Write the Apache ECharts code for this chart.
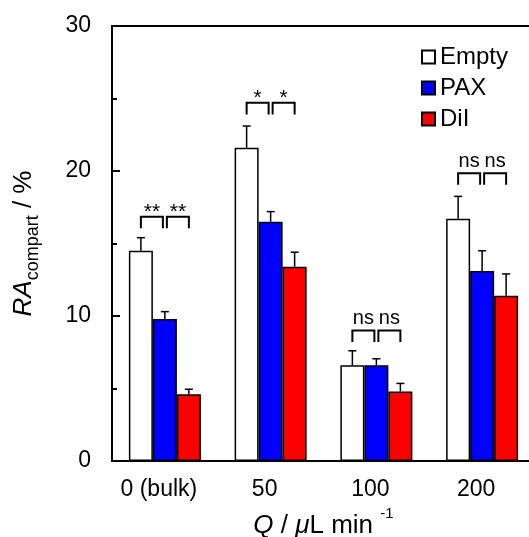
<!DOCTYPE html>
<html>
<head>
<meta charset="utf-8">
<script src="https://cdn.jsdelivr.net/npm/echarts@6/dist/echarts.min.js"></script>
<style>
  html, body { margin: 0; padding: 0; background: #fff; }
  #chart { width: 529px; height: 537px; }
</style>
</head>
<body>
<div id="chart"></div>
<script>
// flow rates (x categories)
var categories = ['0 (bulk)', '50', '100', '200'];
// RA_compart values (%) and upper error bars
var emptyVals = [14.5, 21.6, 6.6, 16.7];
var emptyErr = [0.9, 1.5, 1.0, 1.55];
var paxVals = [9.8, 16.5, 6.6, 13.1];
var paxErr = [0.5, 0.7, 0.45, 1.4];
var dilVals = [4.6, 13.4, 4.8, 11.4];
var dilErr = [0.35, 1.0, 0.55, 1.5];
// significance brackets
var sigLabels = ['**', '*', 'ns', 'ns'];
var bracketTop = [16.85, 24.7, 9.0, 19.85];
var yTicks = [0, 10, 20, 30];

var FONT = 'Liberation Sans, Arial, sans-serif';
var BAR_W = 24;

var chart = echarts.init(document.getElementById('chart'));

// error bar (upper only) drawn next to bar at offset
function errorSeries(vals, errs, offset) {
  return {
    type: 'custom',
    silent: true,
    z: 3,
    data: vals.map(function (v, i) { return [i, v, v + errs[i]]; }),
    renderItem: function (params, api) {
      var base = api.coord([api.value(0), api.value(1)]);
      var top = api.coord([api.value(0), api.value(2)]);
      var x = base[0] + offset;
      var st = { stroke: '#000', lineWidth: 1.5 };
      return {
        type: 'group',
        children: [
          { type: 'line', shape: { x1: x, y1: base[1], x2: x, y2: top[1] }, style: st },
          { type: 'line', shape: { x1: x - 4, y1: top[1], x2: x + 4, y2: top[1] }, style: st }
        ]
      };
    }
  };
}

function barSeries(name, vals, color) {
  return {
    name: name,
    type: 'bar',
    data: vals,
    barWidth: BAR_W,
    barGap: '0%',
    itemStyle: { color: color, borderColor: '#000', borderWidth: 1.5 }
  };
}

var bracketSeries = {
  type: 'custom',
  silent: true,
  z: 4,
  data: categories.map(function (c, i) { return [i, bracketTop[i], bracketTop[i] - 0.8]; }),
  renderItem: function (params, api) {
    var i = api.value(0);
    var t = api.coord([i, api.value(1)]);
    var b = api.coord([i, api.value(2)]);
    var cx = t[0], yt = t[1], yb = b[1];
    var st = { stroke: '#000', lineWidth: 2, fill: null };
    var lab = sigLabels[i];
    var isStar = lab.indexOf('*') >= 0;
    var ty = isStar ? yt + 6 : yt - 2;
    var txt = function (x) {
      return {
        type: 'text',
        style: {
          x: x, y: ty, text: lab, fill: '#000',
          font: (isStar ? 21 : 20) + 'px ' + FONT,
          align: 'center', verticalAlign: 'bottom'
        }
      };
    };
    return {
      type: 'group',
      children: [
        { type: 'polyline', shape: { points: [[cx - 24, yb], [cx - 24, yt], [cx - 2, yt], [cx - 2, yb]] }, style: st },
        { type: 'polyline', shape: { points: [[cx + 2, yb], [cx + 2, yt], [cx + 24, yt], [cx + 24, yb]] }, style: st },
        txt(cx - 13),
        txt(cx + 13)
      ]
    };
  }
};

var option = {
  animation: false,
  backgroundColor: '#fff',
  textStyle: { fontFamily: FONT },
  grid: {
    left: 112, right: -6, top: 26, bottom: 76,
    outerBoundsMode: 'none',
    show: true, borderColor: '#000', borderWidth: 2
  },
  legend: {
    orient: 'vertical',
    left: 416,
    top: 40,
    itemWidth: 13,
    itemHeight: 13,
    itemGap: 7,
    icon: 'rect',
    textStyle: { fontSize: 24, color: '#000', fontFamily: FONT },
    data: ['Empty', 'PAX', 'DiI']
  },
  xAxis: {
    type: 'category',
    data: categories,
    axisLine: { lineStyle: { color: '#000', width: 2 } },
    axisTick: { show: false },
    axisLabel: { fontSize: 23, color: '#000', margin: 17, padding: [0, 12, 0, 0], fontFamily: FONT },
    name: '{i|Q}{n| / }{i|\u03bc}{n|L min }{s|-1}',
    nameLocation: 'middle',
    nameGap: 44,
    nameTextStyle: {
      rich: {
        i: { fontSize: 26, fontStyle: 'italic', lineHeight: 40, color: '#000', fontFamily: FONT },
        n: { fontSize: 26, lineHeight: 40, color: '#000', fontFamily: FONT },
        s: { fontSize: 15, lineHeight: 12, verticalAlign: 'top', color: '#000', fontFamily: FONT }
      }
    }
  },
  yAxis: {
    type: 'value',
    min: yTicks[0],
    max: yTicks[yTicks.length - 1],
    interval: yTicks[1] - yTicks[0],
    axisLine: { show: true, lineStyle: { color: '#000', width: 2 } },
    axisTick: { show: true, inside: true, length: 8, lineStyle: { color: '#000', width: 2 } },
    minorTick: { show: true, splitNumber: 2, length: 5, lineStyle: { color: '#000', width: 2 } },
    splitLine: { show: false },
    axisLabel: { fontSize: 23, color: '#000', margin: 21, fontFamily: FONT },
    name: '{i|RA}{s|compart}{n| / %}',
    nameLocation: 'middle',
    nameRotate: 90,
    nameGap: 70,
    nameTextStyle: {
      rich: {
        i: { fontSize: 26, fontStyle: 'italic', lineHeight: 36, color: '#000', fontFamily: FONT },
        s: { fontSize: 18, lineHeight: 14, verticalAlign: 'bottom', color: '#000', fontFamily: FONT },
        n: { fontSize: 26, lineHeight: 36, color: '#000', fontFamily: FONT }
      }
    }
  },
  series: [
    barSeries('Empty', emptyVals, '#ffffff'),
    barSeries('PAX', paxVals, '#0000ff'),
    barSeries('DiI', dilVals, '#ff0000'),
    errorSeries(emptyVals, emptyErr, -BAR_W),
    errorSeries(paxVals, paxErr, 0),
    errorSeries(dilVals, dilErr, BAR_W),
    bracketSeries
  ]
};

chart.setOption(option);
</script>
</body>
</html>
